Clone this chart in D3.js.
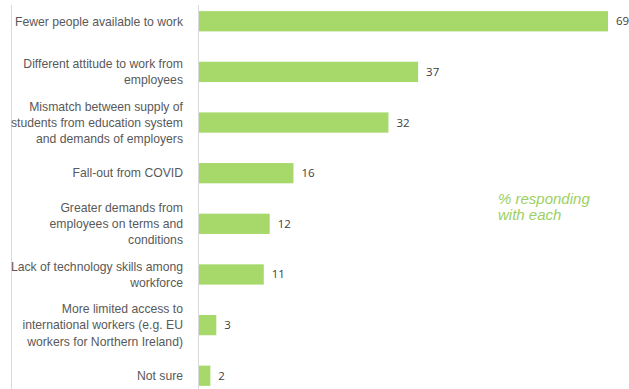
<!DOCTYPE html>
<html>
<head>
<meta charset="utf-8">
<script src="https://cdn.jsdelivr.net/npm/d3@7"></script>
<style>
  html, body { margin: 0; padding: 0; background: #fff; }
  svg { display: block; }
</style>
</head>
<body>
<svg id="chart" width="629" height="389"></svg>
<script>
// Reasons given, one entry per bar (line breaks mark wrapped label lines)
const categories = [
  "Fewer people available to work",
  "Different attitude to work from\nemployees",
  "Mismatch between supply of\nstudents from education system\nand demands of employers",
  "Fall-out from COVID",
  "Greater demands from\nemployees on terms and\nconditions",
  "Lack of technology skills among\nworkforce",
  "More limited access to\ninternational workers (e.g. EU\nworkers for Northern Ireland)",
  "Not sure"
];
const values = [69, 37, 32, 16, 12, 11, 3, 2];
const noteLines = ["% responding", "with each"];

const svg = d3.select("#chart");
const W = 629, H = 389;
const axisX = 198.5;
const barColor = "#a6d96a";

const x = d3.scaleLinear().domain([0, 69]).range([axisX, 608]);
const y = d3.scaleBand()
  .domain(categories)
  .range([1, 396])
  .paddingInner(0.6)
  .paddingOuter(0.2);

// outer left frame line
svg.append("line")
  .attr("x1", 11.5).attr("x2", 11.5)
  .attr("y1", 5).attr("y2", H)
  .attr("stroke", "#d9d9d9").attr("stroke-width", 1);

// bars
svg.selectAll("rect.bar")
  .data(categories)
  .join("rect")
  .attr("class", "bar")
  .attr("x", x(0))
  .attr("y", d => y(d))
  .attr("width", (d, i) => x(values[i]) - x(0))
  .attr("height", y.bandwidth())
  .attr("fill", barColor);

// category axis line
svg.append("line")
  .attr("x1", axisX).attr("x2", axisX)
  .attr("y1", 5).attr("y2", H)
  .attr("stroke", "#d9d9d9").attr("stroke-width", 1);

// category labels, wrapped and centred on each bar
const lineH = 16.3;
svg.selectAll("text.cat")
  .data(categories)
  .join("text")
  .attr("class", "cat")
  .attr("text-anchor", "end")
  .attr("font-family", "Liberation Sans, Arial, sans-serif")
  .attr("font-size", 12.2)
  .attr("fill", "#595959")
  .each(function (d) {
    const lines = d.split("\n");
    const cy = y(d) + y.bandwidth() / 2;
    const top = cy - (lines.length - 1) * lineH / 2;
    d3.select(this).selectAll("tspan")
      .data(lines)
      .join("tspan")
      .attr("x", 183)
      .attr("y", (l, j) => top + j * lineH)
      .attr("dy", "0.35em")
      .text(l => l);
  });

// value labels
svg.selectAll("text.val")
  .data(categories)
  .join("text")
  .attr("class", "val")
  .attr("x", (d, i) => x(values[i]) + 8)
  .attr("y", d => y(d) + y.bandwidth() / 2)
  .attr("dy", "0.35em")
  .attr("font-family", "Open Sans, sans-serif")
  .attr("font-size", 11.5)
  .attr("fill", "#404040")
  .text((d, i) => values[i]);

// note
svg.append("text")
  .attr("font-family", "Liberation Sans, Arial, sans-serif")
  .attr("font-size", 15)
  .attr("font-style", "italic")
  .attr("fill", "#9bd064")
  .selectAll("tspan")
  .data(noteLines)
  .join("tspan")
  .attr("x", 498)
  .attr("y", (d, i) => 204 + i * 16)
  .text(d => d);
</script>
</body>
</html>
